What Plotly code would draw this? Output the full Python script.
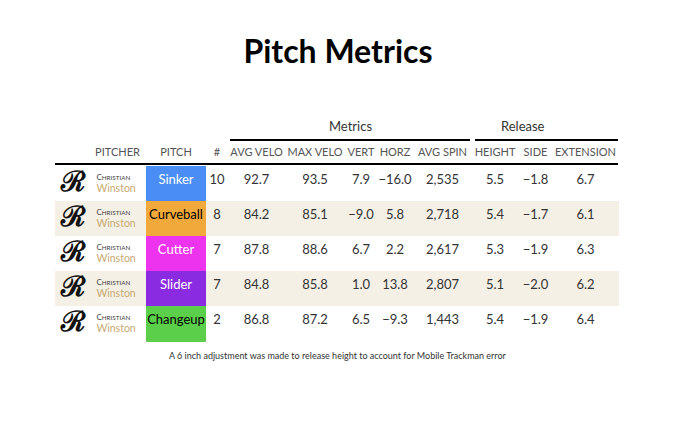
import plotly.graph_objects as go

# table data
pitcher_first = "Christian"
pitcher_last = "Winston"
pitches = ["Sinker", "Curveball", "Cutter", "Slider", "Changeup"]
pitch_colors = ["#4a8ef5", "#f2a93b", "#ee33ee", "#8a2be2", "#5ccf4a"]
pitch_text_colors = ["white", "black", "white", "white", "black"]
counts = [10, 8, 7, 7, 2]
avg_velo = [92.7, 84.2, 87.8, 84.8, 86.8]
max_velo = [93.5, 85.1, 88.6, 85.8, 87.2]
vert = [7.9, -9.0, 6.7, 1.0, 6.5]
horz = [-16.0, 5.8, 2.2, 13.8, -9.3]
avg_spin = [2535, 2718, 2617, 2807, 1443]
rel_height = [5.5, 5.4, 5.3, 5.1, 5.4]
rel_side = [-1.8, -1.7, -1.9, -2.0, -1.9]
extension = [6.7, 6.1, 6.3, 6.2, 6.4]

col_labels = ["", "PITCHER", "PITCH", "#", "AVG VELO", "MAX VELO", "VERT", "HORZ",
              "AVG SPIN", "HEIGHT", "SIDE", "EXTENSION"]
col_widths = [34, 57, 60, 22, 57, 60, 32, 36, 59, 46, 35, 65]


def fmt(v, d=1):
    s = f"{v:,.{d}f}"
    return s.replace("-", "\u2212")


n = len(pitches)
columns = [
    [""] * n,
    [""] * n,
    pitches,
    [str(c) for c in counts],
    [fmt(v) for v in avg_velo],
    [fmt(v) for v in max_velo],
    [fmt(v) for v in vert],
    [fmt(v) for v in horz],
    [fmt(v, 0) for v in avg_spin],
    [fmt(v) for v in rel_height],
    [fmt(v) for v in rel_side],
    [fmt(v) for v in extension],
]

clear = "rgba(0,0,0,0)"
stripe = ["white" if i % 2 == 0 else "#f5f0e6" for i in range(n)]
fills = [stripe] * len(columns)
fills[0] = [clear] * n
fills[1] = [clear] * n
fills[2] = pitch_colors
font_colors = [["#333"] * n] * len(columns)
font_colors[2] = pitch_text_colors

W, H = 680, 447
OFF = 8  # page body margin
ROW_TOP, ROW_H, HEAD_H = 166, 35, 26


def px_x(p):
    return (p - OFF) / W


def px_y(p):
    return 1 - (p - OFF) / H


fig = go.Figure()

# stripes behind the logo / pitcher columns, drawn on a hidden axis
fig.add_trace(go.Bar(
    y=pitches, x=[1] * n, base=0, orientation="h", width=1,
    marker=dict(color=stripe, line=dict(width=0)), hoverinfo="skip", showlegend=False,
))

# logo stand-in
fig.add_trace(go.Scatter(
    y=pitches, x=[0.2] * n, mode="text", text=["<b>\u211b</b>"] * n,
    textposition="middle center", textfont=dict(family="DejaVu Serif", size=28, color="#111"),
    hoverinfo="skip", showlegend=False,
))

# pitcher name in small caps / gold
first = pitcher_first.upper()
name = (f"<span style='font-size:8px;color:#444'>{first[0]}"
        f"<span style='font-size:6.3px'>{first[1:]}</span></span>"
        f"<br><span style='color:#c9aa72;font-size:10.5px'>{pitcher_last}</span>")
fig.add_trace(go.Scatter(
    y=pitches, x=[0.455] * n, mode="text", text=[name] * n,
    textposition="middle right", textfont=dict(family="Lato", size=9.5, color="#444"),
    hoverinfo="skip", showlegend=False,
))

fig.add_trace(go.Table(
    domain=dict(x=[px_x(55), px_x(618)], y=[0.05, px_y(140)]),
    columnwidth=col_widths,
    header=dict(values=[c.replace(" ", "\u00a0") for c in col_labels], height=HEAD_H,
                fill_color="white", line=dict(color="white", width=0),
                font=dict(family="Lato", size=11, color="#555"), align="center"),
    cells=dict(values=columns, height=ROW_H, fill_color=fills,
               line=dict(color=fills, width=1),
               font=dict(family="Lato", size=13, color=font_colors), align="center"),
))

# rules: spanner lines and header bottom line
line = dict(color="black", width=2)
fig.add_shape(type="line", xref="paper", yref="paper", x0=px_x(230), x1=px_x(470),
              y0=px_y(140), y1=px_y(140), line=line)
fig.add_shape(type="line", xref="paper", yref="paper", x0=px_x(475), x1=px_x(618),
              y0=px_y(140), y1=px_y(140), line=line)
fig.add_shape(type="line", xref="paper", yref="paper", x0=px_x(55), x1=px_x(618),
              y0=px_y(164), y1=px_y(164), line=line)

fig.add_annotation(text="Metrics", x=px_x(350), y=px_y(126), xref="paper", yref="paper",
                   yanchor="middle", showarrow=False,
                   font=dict(family="Lato", size=13, color="#333"))
fig.add_annotation(text="Release", x=px_x(547), y=px_y(126), xref="paper", yref="paper",
                   yanchor="middle", showarrow=False,
                   font=dict(family="Lato", size=13, color="#333"))
fig.add_annotation(text="A 6 inch adjustment was made to release height to account for Mobile Trackman error",
                   x=px_x(338), y=px_y(355), xref="paper", yref="paper", yanchor="middle",
                   showarrow=False, font=dict(family="Lato", size=9, color="#333"))

fig.update_xaxes(domain=[px_x(55), px_x(146)], range=[0, 1], visible=False, fixedrange=True)
fig.update_yaxes(domain=[px_y(ROW_TOP + n * ROW_H), px_y(ROW_TOP)],
                 categoryorder="array", categoryarray=pitches,
                 range=[n - 0.5, -0.5], visible=False, fixedrange=True)

fig.update_layout(
    width=W, height=H,
    margin=dict(l=0, r=0, t=0, b=0),
    paper_bgcolor="white",
    plot_bgcolor="rgba(0,0,0,0)",
    title=dict(text="<b>Pitch Metrics</b>", x=px_x(338), xanchor="center", y=px_y(52),
               yanchor="middle", font=dict(family="Lato", size=32, color="black")),
)

fig.write_html("out.html")
